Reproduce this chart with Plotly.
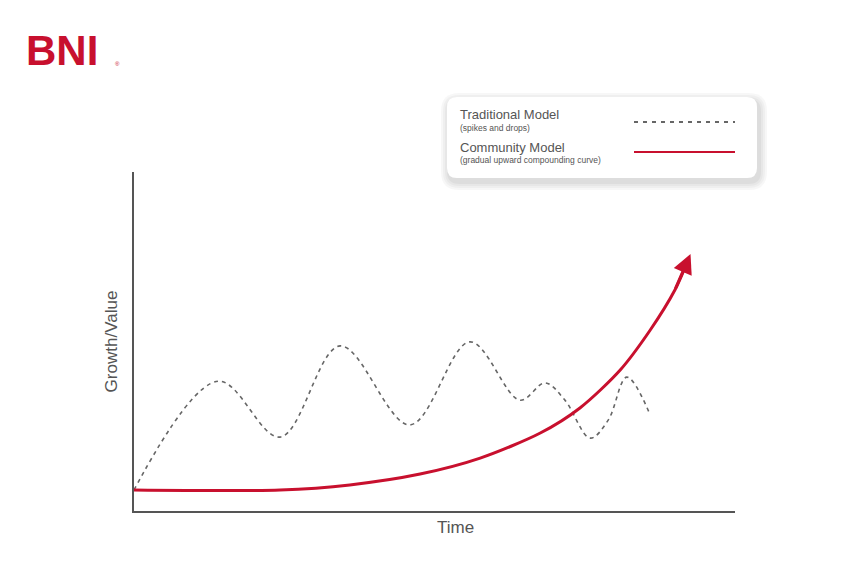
import plotly.graph_objects as go

trad_x = [0, 14.0, 24.3, 34.3, 45.9, 55.9, 64.2, 68.4, 71.7, 75.9, 78.9, 82.0, 85.9]
trad_y = [6.2, 38.3, 21.8, 48.7, 25.4, 49.9, 32.7, 37.8, 32.7, 21.5, 26.8, 39.5, 28.3]
comm_x = [0, 24.3, 35.9, 47.6, 57.6, 67.6, 74.2, 80.9, 85.9, 90.0, 91.6]
comm_y = [6.2, 6.2, 7.7, 10.9, 15.6, 23.0, 30.4, 41.6, 53.4, 65.2, 71.5]
arrow_tip = (92.6, 75.8)

OFF = 8
L, R, T, B = 134, 735, 172, 511
W, H = 850, 570
def px(x): return (x - L) / (R - L)
def py(y): return (B - y) / (B - T)

fig = go.Figure()
fig.add_trace(go.Scatter(x=trad_x, y=trad_y, mode="lines", line=dict(color="#666", width=1.6, dash="4px,4px", shape="spline", smoothing=1.0), hoverinfo="skip"))
fig.add_trace(go.Scatter(x=comm_x, y=comm_y, mode="lines", line=dict(color="#C8102E", width=3, shape="spline", smoothing=0.8), hoverinfo="skip"))
fig.add_annotation(x=arrow_tip[0], y=arrow_tip[1], ax=comm_x[-2], ay=comm_y[-2], xref="x", yref="y", axref="x", ayref="y",
                   showarrow=True, arrowhead=2, arrowsize=1.3, arrowwidth=3, arrowcolor="#C8102E", text="")

def rrect(x0, y0, x1, y1, r):
    return (f"M{px(x0+r)},{py(y0)} L{px(x1-r)},{py(y0)} Q{px(x1)},{py(y0)} {px(x1)},{py(y0+r)} "
            f"L{px(x1)},{py(y1-r)} Q{px(x1)},{py(y1)} {px(x1-r)},{py(y1)} L{px(x0+r)},{py(y1)} "
            f"Q{px(x0)},{py(y1)} {px(x0)},{py(y1-r)} L{px(x0)},{py(y0+r)} Q{px(x0)},{py(y0)} {px(x0+r)},{py(y0)} Z")

for i, a in enumerate([0.03, 0.03, 0.03, 0.04]):
    d = 8 - 2 * i
    fig.add_shape(type="path", xref="paper", yref="paper", path=rrect(447 - d + 2, 97 - d + 4, 757 + d + 2, 178 + d + 4, 10 + d),
                  fillcolor=f"rgba(0,0,0,{a})", line=dict(width=0))
fig.add_shape(type="path", xref="paper", yref="paper", path=rrect(447, 97, 757, 178, 10), fillcolor="white", line=dict(width=0))
fig.add_shape(type="line", xref="paper", yref="paper", x0=px(634), x1=px(735), y0=py(122), y1=py(122), line=dict(color="#666", width=2, dash="4px,5px"))
fig.add_shape(type="line", xref="paper", yref="paper", x0=px(634), x1=px(735), y0=py(152), y1=py(152), line=dict(color="#C8102E", width=2))

def txt(x, y, s, size, color="#555", anchor="left", **kw):
    fig.add_annotation(x=px(x), y=py(y), xref="paper", yref="paper", text=s, showarrow=False, xanchor=anchor, yanchor="middle",
                       font=dict(size=size, color=color, family="Liberation Sans, Arial"), **kw)
txt(458, 115, "Traditional Model", 13)
txt(458, 128, "(spikes and drops)", 8.5)
txt(458, 148, "Community Model", 13)
txt(458, 160, "(gradual upward compounding curve)", 8.5)
txt(24, 50, "<b>BNI</b>", 42, "#C8102E")
txt(113, 64, "®", 6, "#C8102E")
txt(455, 527, "Time", 17, anchor="center")

fig.update_xaxes(range=[0, 100], showgrid=False, zeroline=False, showticklabels=False, ticks="",
                 showline=True, linecolor="#555", linewidth=1.5)
fig.update_yaxes(range=[0, 100], showgrid=False, zeroline=False, showticklabels=False, ticks="",
                 showline=True, linecolor="#555", linewidth=1.5, title=dict(text="Growth/Value", font=dict(size=17, color="#555", family="Liberation Sans, Arial"), standoff=10))
fig.update_layout(width=W, height=H, margin=dict(l=L - OFF, r=W - R + OFF, t=T - OFF, b=H - B + OFF),
                  plot_bgcolor="white", paper_bgcolor="white", showlegend=False)
fig.write_html("out.html")
